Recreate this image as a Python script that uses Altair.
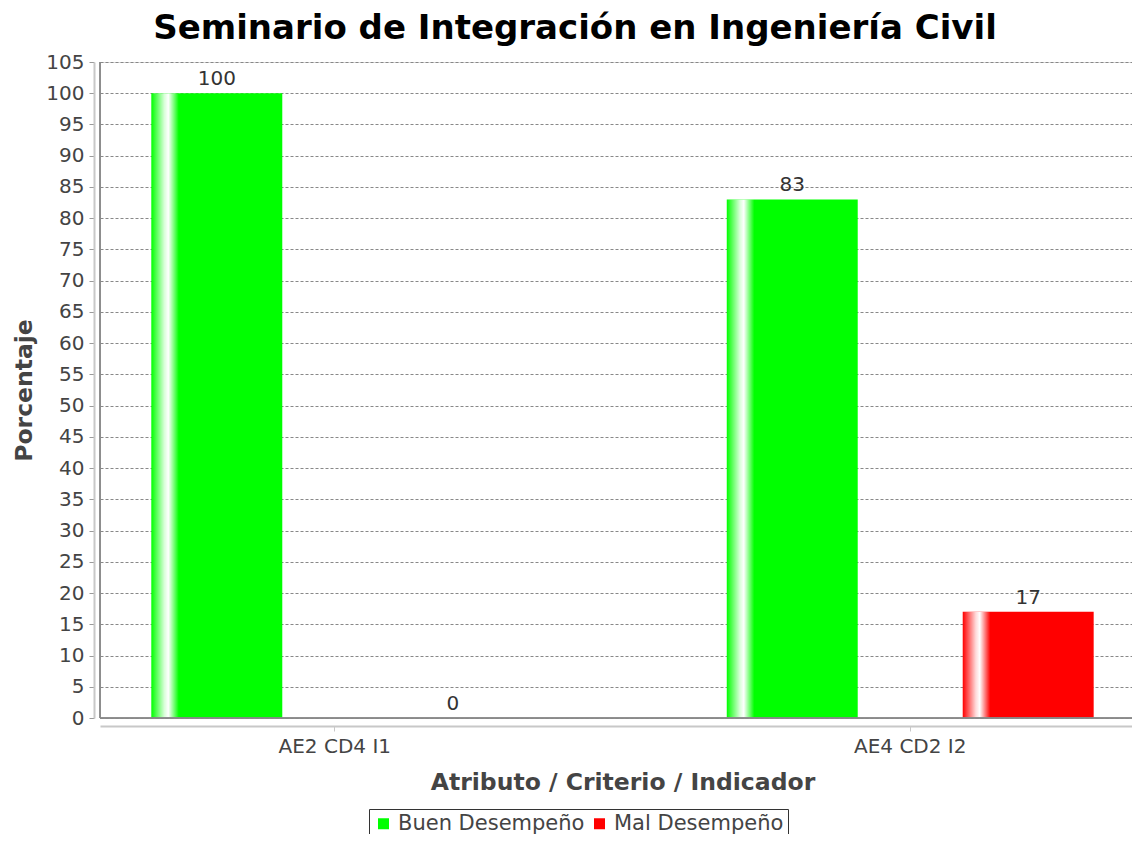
import altair as alt
import pandas as pd

categories = ["AE2 CD4 I1", "AE4 CD2 I2"]
series = ["Buen Desempeño", "Mal Desempeño"]
buen = [100, 83]
mal = [0, 17]
series_colors = ["#00ff00", "#ff0000"]
y_ticks = list(range(0, 106, 5))

rows = []
for i, c in enumerate(categories):
    rows.append({"cat": c, "serie": series[0], "valor": buen[i]})
    rows.append({"cat": c, "serie": series[1], "valor": mal[i]})
df = pd.DataFrame(rows)

FONT = "DejaVu Sans"
W, H = 1032, 656

x = alt.X("cat:N", sort=categories,
          scale=alt.Scale(range=[0, 1045], paddingInner=0.2, paddingOuter=0.008),
          axis=alt.Axis(title="Atributo / Criterio / Indicador", labelAngle=0,
                        labelFontSize=20, labelColor="#444444", labelFont=FONT,
                        titleFontSize=23.5, titleFont=FONT, titleColor="#444444",
                        titleFontWeight="bold", titlePadding=14,
                        offset=8, domainColor="#c8c8c8", domainWidth=2,
                        tickColor="#c8c8c8", tickSize=5, labelPadding=5))
xo = alt.XOffset("serie:N", sort=series,
                 scale=alt.Scale(paddingInner=0.445, paddingOuter=0.198))
y = alt.Y("valor:Q",
          scale=alt.Scale(domain=[0, 105], nice=False),
          axis=alt.Axis(title="Porcentaje", values=y_ticks,
                        labelFontSize=20, labelColor="#444444", labelFont=FONT,
                        titleFontSize=23.5, titleFont=FONT, titleColor="#444444",
                        titleFontWeight="bold", titlePadding=9,
                        offset=6, domainColor="#c8c8c8", domainWidth=2,
                        tickColor="#999999", tickSize=5, labelPadding=5,
                        grid=True, gridColor="#888888", gridDash=[3, 2],
                        gridWidth=1))

base = alt.Chart(df)

bars = base.mark_bar(strokeWidth=0).encode(
    x=x, xOffset=xo, y=y,
    color=alt.Color("serie:N", sort=series,
                    scale=alt.Scale(domain=series, range=series_colors),
                    legend=alt.Legend(title=None, orient="none",
                                      legendX=269, legendY=747,
                                      direction="horizontal",
                                      symbolType="square", symbolSize=121,
                                      symbolStrokeWidth=0, labelLimit=0,
                                      labelFontSize=21, labelFont=FONT,
                                      labelColor="#444444",
                                      strokeColor="#333333", padding=4,
                                      columnPadding=4, labelOffset=4)),
)

shine = base.mark_bar(
    strokeWidth=0,
    fill={
        "gradient": "linear", "x1": 0, "y1": 0, "x2": 1, "y2": 0,
        "stops": [
            {"offset": 0.0, "color": "rgba(255,255,255,0)"},
            {"offset": 0.10, "color": "rgba(255,255,255,0.85)"},
            {"offset": 0.13, "color": "rgba(255,255,255,1)"},
            {"offset": 0.21, "color": "rgba(255,255,255,0)"},
            {"offset": 1.0, "color": "rgba(255,255,255,0)"},
        ],
    },
).encode(x=x, xOffset=xo, y=y)

labels = base.mark_text(baseline="bottom", dy=-4, fontSize=20, font=FONT,
                        color="#333333").encode(
    x=x, xOffset=xo, y=y, text=alt.Text("valor:Q"))

left_border = alt.Chart(df).mark_rule(color="#888888", strokeWidth=1).encode(
    x=alt.value(0), y=alt.value(0), y2=alt.value(H))
bottom_border = alt.Chart(df).mark_rule(color="#888888", strokeWidth=1).encode(
    x=alt.value(0), x2=alt.value(W), y=alt.value(H))

chart = alt.layer(bars, shine, labels, left_border, bottom_border).properties(
    width=W, height=H,
    title=alt.Title("Seminario de Integración en Ingeniería Civil",
                    fontSize=34, font=FONT, fontWeight="bold", color="#000000",
                    anchor="middle", dx=-41, offset=6),
    autosize=alt.AutoSizeParams(type="none"),
    padding={"left": 92, "top": 54, "right": 0, "bottom": 116},
).configure_view(strokeWidth=0).configure(background="white")

chart.save("out.html", embed_options={"renderer": "svg", "actions": False})
